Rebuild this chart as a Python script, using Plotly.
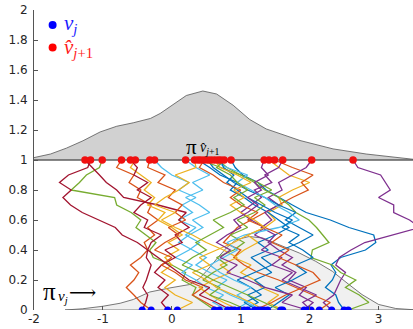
import plotly.graph_objects as go

# ---------------- data ----------------
levels = [0.0, 0.05, 0.10, 0.15, 0.20, 0.25, 0.30, 0.35, 0.40, 0.45, 0.50,
          0.55, 0.60, 0.65, 0.70, 0.75, 0.80, 0.85, 0.90, 0.95, 1.0]

v_j = [-0.43, -0.30, -0.06, 0.08, 0.62, 0.69, 0.81, 0.86, 0.91, 0.98, 1.05, 1.10, 1.20,
       1.25, 1.29, 1.34, 1.39, 1.58, 1.61, 1.92, 1.97, 2.02, 2.14, 2.32, 2.50, 2.56]
v_hat = [-1.26, -1.18, -1.01, -0.73, -0.60, -0.53, -0.32, -0.25, 0.20, 0.33, 0.38, 0.42, 0.47,
         0.52, 0.57, 0.62, 0.67, 0.71, 0.76, 0.86, 1.34, 1.41, 1.49, 1.61, 2.03, 2.63]

top_x = [-2.0, -1.76, -1.53, -1.29, -1.04, -0.80, -0.56, -0.31, -0.17, 0.02, 0.21, 0.45,
         0.65, 0.89, 1.13, 1.37, 1.61, 1.86, 2.34, 2.82, 3.5]
top_y = [1.016, 1.04, 1.079, 1.128, 1.187, 1.225, 1.248, 1.277, 1.31, 1.37, 1.43, 1.46,
         1.44, 1.365, 1.27, 1.207, 1.169, 1.13, 1.074, 1.04, 1.005]

bot_x = [-1.55, -1.3, -1.0, -0.75, -0.56, -0.32, -0.03, 0.26, 0.40, 0.50, 0.65, 0.79, 0.93,
         1.12, 1.32, 1.61, 1.85, 2.09, 2.33, 2.57, 2.76, 3.0, 3.25, 3.5]
bot_y = [0.0, 0.008, 0.025, 0.045, 0.07, 0.12, 0.147, 0.17, 0.21, 0.258, 0.34, 0.413, 0.468,
         0.49, 0.48, 0.424, 0.38, 0.324, 0.258, 0.17, 0.103, 0.037, 0.01, 0.002]

path_A = [-0.43, -0.38, -0.35, -0.42, -0.37, -0.33, -0.30, -0.37, -0.35, -0.50, -0.72, -0.82, -1.05, -1.30, -1.47, -1.58, -1.46, -1.63, -1.50, -1.22, -1.18]
path_O1 = [-0.30, -0.45, -0.55, -0.66, -0.55, -0.48, -0.60, -0.45, -0.35, -0.40, -0.25, -0.35, -0.20, -0.35, -0.30, -0.50, -0.45, -0.62, -0.55, -0.80, -0.73]
path_B = [-0.06, -0.15, -0.05, -0.20, -0.10, -0.25, -0.15, 0.05, -0.10, 0.15, 0.05, 0.25, 0.10, 0.21, -0.20, -0.70, -0.80, -0.95, -1.05, -1.15, -1.26]
path_Y2 = [0.08, 0.30, 0.05, -0.10, 0.05, -0.15, 0.00, -0.10, 0.10, -0.05, 0.15, 0.00, -0.20, -0.10, -0.35, -0.25, -0.40, -0.30, -0.45, -0.60, -0.53]
path_G1 = [0.62, 0.45, 0.30, 0.35, 0.15, 0.20, 0.00, -0.27, -0.32, -0.23, -0.37, -0.52, -0.45, -0.59, -0.80, -0.83, -1.46, -1.34, -1.24, -1.05, -1.01]
path_O3 = [0.69, 0.50, 0.30, 0.45, 0.20, 0.05, -0.15, 0.00, -0.25, -0.10, 0.10, -0.05, 0.20, 0.05, 0.15, -0.05, 0.05, -0.20, -0.10, -0.35, -0.32]
path_L1 = [0.81, 0.60, 0.75, 0.50, 0.35, 0.15, 0.30, 0.05, 0.25, 0.40, 0.20, 0.35, 0.10, 0.30, 0.15, 0.35, 0.10, 0.25, 0.00, -0.15, -0.25]
path_C = [0.86, 0.65, 0.40, 0.55, 0.25, 0.10, -0.05, -0.20, -0.35, -0.30, -0.15, -0.40, -0.35, -0.55, -0.45, -0.30, -0.50, -0.35, -0.55, -0.50, -0.60]
path_L2 = [0.91, 1.10, 0.85, 0.65, 0.80, 0.55, 0.35, 0.50, 0.30, 0.10, 0.25, 0.45, 0.30, 0.55, 0.40, 0.20, 0.45, 0.30, 0.55, 0.35, 0.20]
path_Y3 = [0.98, 0.75, 0.55, 0.40, 0.60, 0.85, 0.70, 0.95, 0.75, 0.50, 0.30, 0.05, -0.15, 0.05, -0.25, -0.10, 0.10, 0.25, 0.05, 0.35, 0.33]
path_B2 = [1.05, 1.25, 1.10, 1.35, 1.20, 1.45, 1.30, 1.15, 1.40, 1.25, 1.50, 1.70, 1.55, 1.40, 1.20, 1.05, 0.85, 0.95, 0.70, 0.55, 0.38]
path_G3 = [1.10, 0.85, 0.55, 0.70, 0.45, 0.60, 0.80, 0.65, 0.90, 1.05, 0.85, 1.10, 0.95, 1.20, 1.35, 1.20, 1.45, 1.25, 1.00, 0.70, 0.42]
path_O4 = [1.20, 1.45, 1.65, 1.90, 2.15, 2.05, 1.80, 1.55, 1.70, 1.45, 1.60, 1.35, 1.10, 1.25, 1.00, 0.85, 1.00, 0.75, 0.60, 0.40, 0.47]
path_B3 = [1.25, 1.05, 1.30, 1.15, 0.95, 1.20, 1.45, 1.30, 1.60, 1.85, 2.05, 1.85, 1.65, 1.80, 1.55, 1.35, 1.10, 0.90, 0.75, 0.60, 0.52]
path_L3 = [1.29, 1.10, 0.95, 1.15, 0.90, 0.70, 0.55, 0.75, 0.95, 0.80, 1.05, 1.55, 1.85, 1.70, 1.50, 1.35, 1.15, 0.95, 1.10, 0.80, 0.57]
path_Y4 = [1.34, 1.15, 0.90, 0.65, 0.50, 0.30, 0.55, 0.40, 0.65, 0.90, 1.10, 1.35, 1.20, 1.00, 0.85, 1.05, 0.90, 1.15, 0.95, 0.70, 0.62]
path_B4 = [1.39, 1.55, 1.70, 1.50, 1.75, 1.95, 1.80, 2.05, 1.90, 1.70, 1.85, 1.60, 1.75, 1.50, 1.30, 1.10, 0.95, 0.80, 0.90, 0.75, 0.71]
path_G4 = [1.58, 1.35, 1.10, 0.85, 0.60, 0.40, 0.15, 0.30, 0.50, 0.35, 0.55, 0.75, 0.60, 0.85, 1.05, 0.90, 1.10, 0.95, 0.85, 0.65, 0.76]
path_Y1 = [1.61, 1.40, 1.55, 1.30, 1.20, 1.00, 1.15, 0.90, 1.05, 1.25, 1.10, 1.35, 1.50, 1.40, 1.60, 1.55, 1.75, 2.00, 1.70, 1.55, 1.41]
path_P2 = [1.92, 2.05, 1.85, 1.95, 1.70, 1.80, 1.60, 1.75, 1.55, 1.40, 1.50, 1.30, 1.45, 1.35, 1.55, 1.40, 1.60, 1.55, 1.75, 1.95, 2.03]
path_P4 = [1.97, 1.60, 1.75, 1.35, 1.10, 0.80, 0.95, 0.70, 0.85, 0.65, 0.80, 1.00, 0.90, 1.10, 1.25, 1.10, 1.30, 1.20, 1.40, 1.30, 1.34]
path_P3 = [2.02, 1.90, 2.10, 1.85, 1.60, 1.75, 1.45, 1.60, 1.30, 1.45, 1.20, 1.35, 1.15, 1.00, 1.15, 1.30, 1.20, 1.45, 1.35, 1.55, 1.61]
path_O2 = [2.14, 2.30, 2.05, 1.80, 1.55, 1.25, 1.05, 0.90, 1.00, 0.75, 0.85, 0.95, 1.15, 1.35, 1.55, 1.75, 1.98, 1.88, 2.05, 1.75, 1.49]
path_P1 = [2.32, 2.20, 2.35, 2.40, 2.45, 2.52, 2.38, 2.43, 2.60, 2.80, 3.20, 3.60, 3.45, 3.22, 3.22, 3.00, 3.17, 3.10, 3.03, 2.70, 2.63]
path_B1 = [2.50, 2.42, 2.38, 2.23, 2.33, 2.38, 2.31, 2.45, 2.81, 2.96, 2.93, 2.57, 2.30, 1.95, 1.75, 1.55, 1.37, 1.25, 1.03, 0.92, 0.86]
path_G2 = [2.56, 2.86, 2.72, 2.52, 2.67, 2.45, 2.33, 2.02, 2.04, 2.28, 2.19, 2.10, 1.99, 1.80, 1.70, 1.55, 1.35, 1.20, 1.00, 0.80, 0.67]

C_BLUE, C_ORANGE, C_YELLOW = "#0072BD", "#D95319", "#EDB120"
C_PURPLE, C_GREEN, C_LBLUE, C_DRED = "#7E2F8E", "#77AC30", "#4DBEEE", "#A2142F"

paths = [
    (path_B1, C_BLUE), (path_O1, C_ORANGE), (path_Y1, C_YELLOW), (path_P1, C_PURPLE),
    (path_G1, C_GREEN), (path_L1, C_LBLUE), (path_A, C_DRED),
    (path_B2, C_BLUE), (path_O2, C_ORANGE), (path_Y2, C_YELLOW), (path_P2, C_PURPLE),
    (path_G2, C_GREEN), (path_L2, C_LBLUE), (path_B, C_DRED),
    (path_B3, C_BLUE), (path_O3, C_ORANGE), (path_Y3, C_YELLOW), (path_P3, C_PURPLE),
    (path_G3, C_GREEN), (path_L3, C_LBLUE), (path_C, C_DRED),
    (path_B4, C_BLUE), (path_O4, C_ORANGE), (path_Y4, C_YELLOW), (path_P4, C_PURPLE),
    (path_G4, C_GREEN),
]

y_ticks = [0, 0.2, 0.4, 0.6, 0.8, 1, 1.2, 1.4, 1.6, 1.8, 2]
y_ticktext = ["0", "0.2", "0.4", "0.6", "0.8", "1", "1.2", "1.4", "1.6", "1.8", "2"]
x_ticks = [-2, -1, 0, 1, 2, 3]
x_ticktext = ["-2", "-1", "0", "1", "2", "3"]

# ---------------- figure ----------------
fig = go.Figure()

# bottom density (pi_{v_j})
fig.add_trace(go.Scatter(
    x=bot_x + bot_x[::-1], y=bot_y + [0] * len(bot_x), mode="lines",
    fill="toself", fillcolor="#f0f0f0", line=dict(color="#555555", width=0.8),
    hoverinfo="skip", showlegend=False))

# top density (pi_{v_hat})
fig.add_trace(go.Scatter(
    x=top_x + top_x[::-1], y=top_y + [1] * len(top_x), mode="lines",
    fill="toself", fillcolor="#d1d1d1", line=dict(color="#555555", width=0.8),
    hoverinfo="skip", showlegend=False))

for xs, col in paths:
    fig.add_trace(go.Scatter(x=xs, y=levels, mode="lines",
                             line=dict(color=col, width=1.3),
                             hoverinfo="skip", showlegend=False))

# baseline at y = 1
fig.add_trace(go.Scatter(x=[-2, 3.5], y=[1, 1], mode="lines",
                         line=dict(color="#555555", width=1),
                         hoverinfo="skip", showlegend=False))

fig.add_trace(go.Scatter(x=v_hat, y=[1] * len(v_hat), mode="markers",
                         marker=dict(color="#f01010", size=7.5, line=dict(width=0)),
                         hoverinfo="skip", showlegend=False))
fig.add_trace(go.Scatter(x=v_j, y=[0] * len(v_j), mode="markers",
                         marker=dict(color="#0000ff", size=7, line=dict(width=0)),
                         hoverinfo="skip", showlegend=False))

# legend markers (decoration)
for yy, col in [(1.9, "#0000ff"), (1.75, "#ff0000")]:
    fig.add_shape(type="circle", xref="x", yref="y", xsizemode="pixel", ysizemode="pixel",
                  xanchor=-1.73, yanchor=yy, x0=-4, x1=4, y0=-4, y1=4,
                  fillcolor=col, line=dict(width=0))

serif = "Liberation Serif"
fig.add_annotation(x=-1.60, y=1.905, xref="x", yref="y", xanchor="left", yanchor="middle",
                   text="<i>v</i><sub><i>j</i></sub>", showarrow=False,
                   font=dict(family=serif, size=21, color="#1a1aff"))
fig.add_annotation(x=-1.60, y=1.745, xref="x", yref="y", xanchor="left", yanchor="middle",
                   text="<i>v̂</i><sub><i>j</i>+1</sub>", showarrow=False,
                   font=dict(family=serif, size=21, color="#ff1a1a"))

# pi label above the top baseline
fig.add_annotation(x=0.29, y=1.09, xref="x", yref="y", xanchor="center", yanchor="middle",
                   text="π", showarrow=False,
                   font=dict(family=serif, size=21, color="#000000"))
fig.add_annotation(x=0.385, y=1.078, xref="x", yref="y", xanchor="left", yanchor="middle",
                   text="<i>v̂</i><sub><i>j</i>+1</sub>", showarrow=False,
                   font=dict(family=serif, size=14, color="#000000"))

# pi label near the bottom density
fig.add_annotation(x=-1.78, y=0.125, xref="x", yref="y", xanchor="center", yanchor="middle",
                   text="π", showarrow=False,
                   font=dict(family=serif, size=25, color="#000000"))
fig.add_annotation(x=-1.675, y=0.088, xref="x", yref="y", xanchor="left", yanchor="middle",
                   text="<i>v</i><sub><i>j</i></sub>", showarrow=False,
                   font=dict(family=serif, size=15, color="#000000"))
fig.add_annotation(x=-1.29, y=0.12, xref="x", yref="y", xanchor="center", yanchor="middle",
                   text="⟶", showarrow=False,
                   font=dict(family="DejaVu Serif", size=19, color="#000000"))

fig.update_layout(
    width=413, height=329, margin=dict(l=34, r=0, t=10, b=19),
    paper_bgcolor="white", plot_bgcolor="white",
    font=dict(family="DejaVu Sans", size=12, color="#262626"),
    xaxis=dict(range=[-2, 3.5], tickvals=x_ticks, ticktext=x_ticktext,
               ticks="inside", ticklen=4, tickcolor="#555555", showline=False,
               showgrid=False, zeroline=False, fixedrange=True),
    yaxis=dict(range=[0, 2], tickvals=y_ticks, ticktext=y_ticktext,
               ticks="inside", ticklen=4, tickcolor="#555555", showline=True,
               linecolor="#555555", linewidth=1, showgrid=False, zeroline=False,
               ticklabelstandoff=3, fixedrange=True),
)

fig.write_html("out.html")
